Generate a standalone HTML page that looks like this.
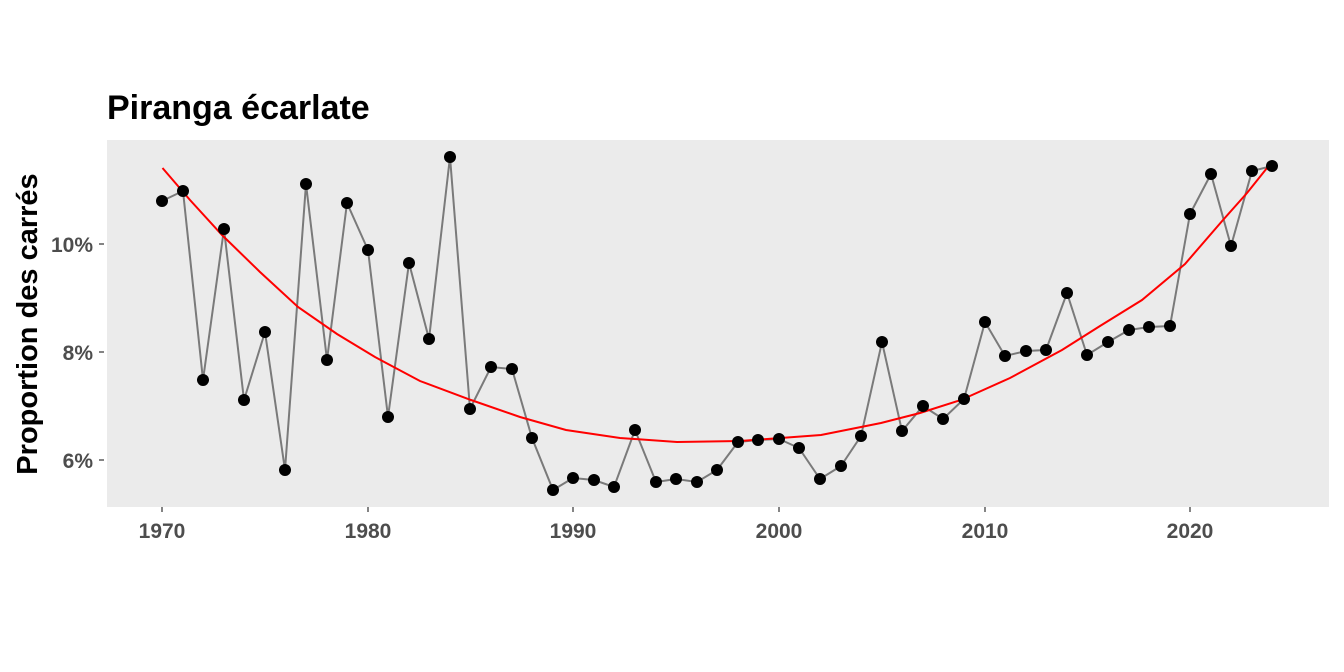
<!DOCTYPE html>
<html><head><meta charset="utf-8"><style>body{margin:0;background:#fff}svg{display:block}</style></head><body>
<svg width="1344" height="672" xmlns="http://www.w3.org/2000/svg" font-family="Liberation Sans, sans-serif">
<text x="107" y="119" font-size="34" font-weight="bold" fill="#000">Piranga écarlate</text>
<rect x="107" y="140" width="1222" height="367" fill="#ebebeb"/>
<text transform="translate(37,324) rotate(-90)" text-anchor="middle" font-size="29" font-weight="bold" fill="#000">Proportion des carrés</text>
<g font-size="21" font-weight="bold" fill="#4d4d4d" text-anchor="end">
<text x="93" y="252">10%</text><text x="93" y="360">8%</text><text x="93" y="468">6%</text></g>
<g stroke="#333" stroke-width="1.2"><line x1="99" y1="244" x2="104" y2="244"/><line x1="99" y1="352" x2="104" y2="352"/><line x1="99" y1="460" x2="104" y2="460"/>
<line x1="162" y1="507" x2="162" y2="512"/><line x1="368" y1="507" x2="368" y2="512"/><line x1="573" y1="507" x2="573" y2="512"/><line x1="779" y1="507" x2="779" y2="512"/><line x1="985" y1="507" x2="985" y2="512"/><line x1="1190" y1="507" x2="1190" y2="512"/></g>
<g font-size="21" font-weight="bold" fill="#4d4d4d" text-anchor="middle">
<text x="162" y="538">1970</text><text x="368" y="538">1980</text><text x="573" y="538">1990</text><text x="779" y="538">2000</text><text x="985" y="538">2010</text><text x="1190" y="538">2020</text></g>
<polyline fill="none" stroke="#7a7a7a" stroke-width="2" points="162,201 183,191 203,380 224,229 244,400 265,332 285,470 306,184 327,360 347,203 368,250 388,417 409,263 429,339 450,157 470,409 491,367 512,369 532,438 553,490 573,478 594,480 614,487 635,430 656,482 676,479 697,482 717,470 738,442 758,440 779,439 799,448 820,479 841,466 861,436 882,342 902,431 923,406 943,419 964,399 985,322 1005,356 1026,351 1046,350 1067,293 1087,355 1108,342 1129,330 1149,327 1170,326 1190,214 1211,174 1231,246 1252,171 1272,166"/>
<polyline fill="none" stroke="#ff0000" stroke-width="2" points="162.5,168 190,200 222,235 260,272 298,307 337,334 375,357 420,381 471,400 520,417 566,430 620,438 677,442 740,441 821,435 881,423 920,413 961,400 1010,378 1062,350 1100,326 1142,300 1185,264 1223,220 1247,193 1267,168"/>
<g fill="#000">
<circle cx="162" cy="201" r="6"/><circle cx="183" cy="191" r="6"/><circle cx="203" cy="380" r="6"/><circle cx="224" cy="229" r="6"/><circle cx="244" cy="400" r="6"/><circle cx="265" cy="332" r="6"/><circle cx="285" cy="470" r="6"/><circle cx="306" cy="184" r="6"/><circle cx="327" cy="360" r="6"/><circle cx="347" cy="203" r="6"/><circle cx="368" cy="250" r="6"/><circle cx="388" cy="417" r="6"/><circle cx="409" cy="263" r="6"/><circle cx="429" cy="339" r="6"/><circle cx="450" cy="157" r="6"/><circle cx="470" cy="409" r="6"/><circle cx="491" cy="367" r="6"/><circle cx="512" cy="369" r="6"/><circle cx="532" cy="438" r="6"/><circle cx="553" cy="490" r="6"/><circle cx="573" cy="478" r="6"/><circle cx="594" cy="480" r="6"/><circle cx="614" cy="487" r="6"/><circle cx="635" cy="430" r="6"/><circle cx="656" cy="482" r="6"/><circle cx="676" cy="479" r="6"/><circle cx="697" cy="482" r="6"/><circle cx="717" cy="470" r="6"/><circle cx="738" cy="442" r="6"/><circle cx="758" cy="440" r="6"/><circle cx="779" cy="439" r="6"/><circle cx="799" cy="448" r="6"/><circle cx="820" cy="479" r="6"/><circle cx="841" cy="466" r="6"/><circle cx="861" cy="436" r="6"/><circle cx="882" cy="342" r="6"/><circle cx="902" cy="431" r="6"/><circle cx="923" cy="406" r="6"/><circle cx="943" cy="419" r="6"/><circle cx="964" cy="399" r="6"/><circle cx="985" cy="322" r="6"/><circle cx="1005" cy="356" r="6"/><circle cx="1026" cy="351" r="6"/><circle cx="1046" cy="350" r="6"/><circle cx="1067" cy="293" r="6"/><circle cx="1087" cy="355" r="6"/><circle cx="1108" cy="342" r="6"/><circle cx="1129" cy="330" r="6"/><circle cx="1149" cy="327" r="6"/><circle cx="1170" cy="326" r="6"/><circle cx="1190" cy="214" r="6"/><circle cx="1211" cy="174" r="6"/><circle cx="1231" cy="246" r="6"/><circle cx="1252" cy="171" r="6"/><circle cx="1272" cy="166" r="6"/>
</g>
</svg>
</body></html>
